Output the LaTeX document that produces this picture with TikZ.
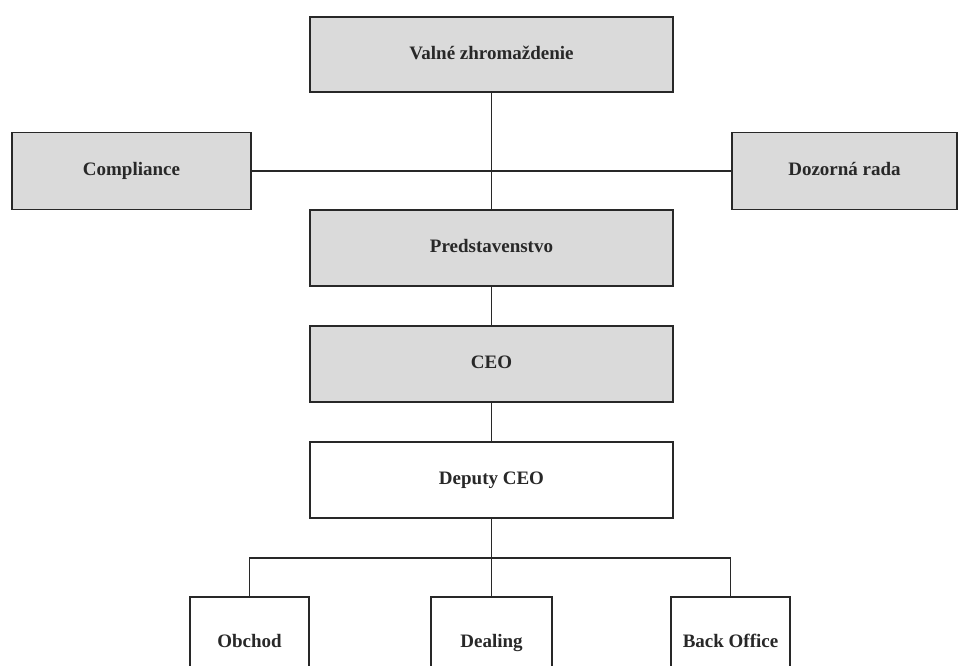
\documentclass[tikz,border=0pt]{standalone}
\usepackage{fontspec}
\setmainfont{Liberation Serif}
\definecolor{boxgray}{RGB}{218,218,218}
\definecolor{ink}{RGB}{40,40,40}
\begin{document}
\begin{tikzpicture}[x=1pt,y=-1pt,
  orgbox/.style={draw=ink,line width=1.7pt,inner sep=0pt,text height=13pt,text depth=4pt,font=\fontsize{19}{22}\selectfont\bfseries,text=ink},
  greybox/.style={orgbox,fill=boxgray},
  whitebox/.style={orgbox,fill=white},
  conn/.style={draw=ink,line width=1.5pt}]
\clip (0,0) rectangle (961,665);
\fill[white] (0,0) rectangle (961,665);
\node[greybox,minimum width=363pt,minimum height=75pt] (valne) at (491.5,54.5) {Valné zhromaždenie};
\node[greybox,minimum width=239pt,minimum height=77pt] (comp) at (131.5,171) {Compliance};
\node[greybox,minimum width=225pt,minimum height=77pt] (doz) at (844.5,171) {Dozorná rada};
\node[greybox,minimum width=363pt,minimum height=76pt] (pred) at (491.5,248) {Predstavenstvo};
\node[greybox,minimum width=363pt,minimum height=76pt] (ceo) at (491.5,364) {CEO};
\node[whitebox,minimum width=363pt,minimum height=76pt] (dep) at (491.5,480) {Deputy CEO};
\node[whitebox,minimum width=119pt,minimum height=92pt] (obchod) at (249.5,643) {Obchod};
\node[whitebox,minimum width=121pt,minimum height=92pt] (dealing) at (491.5,643) {Dealing};
\node[whitebox,minimum width=119pt,minimum height=92pt] (back) at (730.5,643) {Back Office};
\coordinate (bus) at (491.5,558);
\draw[conn] (valne) -- (pred);
\draw[conn] (comp) -- (doz);
\draw[conn] (pred) -- (ceo);
\draw[conn] (ceo) -- (dep);
\draw[conn] (dep.south) -- (bus);
\draw[conn] (obchod) |- (bus) -| (back);
\draw[conn] (bus) -- (dealing);
\end{tikzpicture}
\end{document}
